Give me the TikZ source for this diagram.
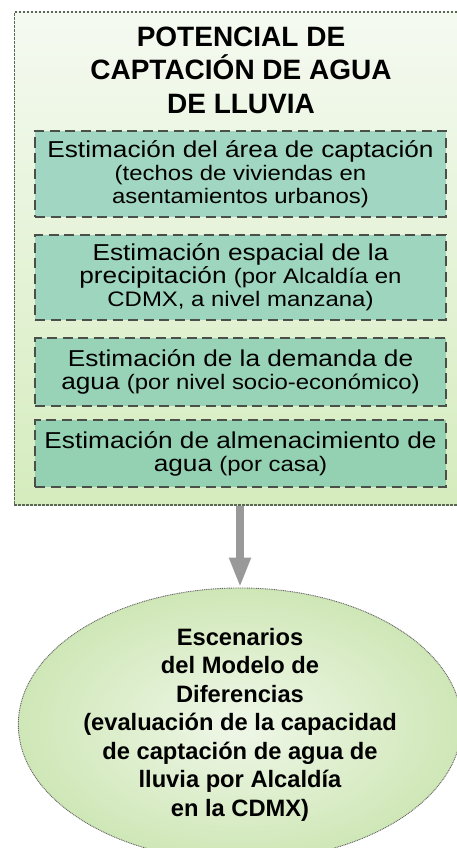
\documentclass[tikz,border=0pt]{standalone}
\usepackage{fontspec}
\setmainfont{Liberation Sans}
\newfontfamily\boxfont[FakeStretch=1.14]{Liberation Sans}
\usetikzlibrary{arrows.meta,shapes.geometric}
\definecolor{frameline}{HTML}{5C6656}
\definecolor{boxline}{HTML}{4A4F4A}
\definecolor{arrowgray}{HTML}{999999}
\definecolor{frametop}{HTML}{F5FAF1}
\definecolor{framebot}{HTML}{D5ECBE}
\definecolor{areafill}{HTML}{A1D6C3}
\definecolor{precfill}{HTML}{9DD5BE}
\definecolor{demfill}{HTML}{98D3B8}
\definecolor{almfill}{HTML}{94D1B2}
\definecolor{escin}{HTML}{EFF7E8}
\definecolor{escout}{HTML}{CFE7B7}
\newcommand{\paren}[1]{{\fontsize{21}{23}\selectfont #1}}
\begin{document}
\begin{tikzpicture}[x=1pt,y=-1pt,
  outerbox/.style={draw=frameline, line width=1.1pt, dash pattern=on 2.6pt off 1.4pt,
    top color=frametop, bottom color=framebot,
    minimum width=443pt, minimum height=493pt, inner sep=0pt},
  estbox/.style={draw=boxline, line width=1.4pt, dash pattern=on 10pt off 5.5pt,
    minimum width=411pt, inner sep=0pt, align=center,
    font=\boxfont\fontsize{23}{23}\selectfont},
  scen/.style={ellipse, draw=gray!80!black, line width=0.9pt, dash pattern=on 1pt off 0.8pt,
    inner color=escin, outer color=escout,
    minimum width=334pt, minimum height=244pt, inner sep=0pt, align=center,
    font=\fontsize{23.7}{28.5}\selectfont\bfseries}]
\useasboundingbox (0,0) rectangle (457,848);
\node[outerbox] (pot) at (235.75,258.5) {};
\node[align=center, font=\fontsize{28}{33.5}\selectfont\bfseries] (title) at (241,70)
  {POTENCIAL DE\\CAPTACIÓN DE AGUA\\DE LLUVIA};
\node[estbox, fill=areafill, minimum height=86pt] (area) at (240.5,174)
  {Estimación del área de captación\\\paren{(techos de viviendas en}\\
   \paren{asentamientos urbanos)}};
\node[estbox, fill=precfill, minimum height=85pt] (prec) at (240.5,277.5)
  {Estimación espacial de la\\precipitación \paren{(por Alcaldía en}\\
   \paren{CDMX, a nivel manzana)}};
\node[estbox, fill=demfill, minimum height=68pt] (dem) at (240.5,372)
  {Estimación de la demanda de\\agua \paren{(por nivel socio-económico)}};
\node[estbox, fill=almfill, minimum height=67pt] (alm) at (240.5,453.5)
  {Estimación de almenacimiento de\\agua \paren{(por casa)}};
\node[scen] (esc) at (240,724.5)
  {Escenarios\\del Modelo de\\Diferencias\\(evaluación de la capacidad\\de captación de agua de\\lluvia por Alcaldía\\en la CDMX)};
\draw[arrowgray, line width=7.5pt, -{Triangle[width=20pt,length=30pt]}] (pot.south -| esc.north) -- (esc.north);
\end{tikzpicture}
\end{document}
